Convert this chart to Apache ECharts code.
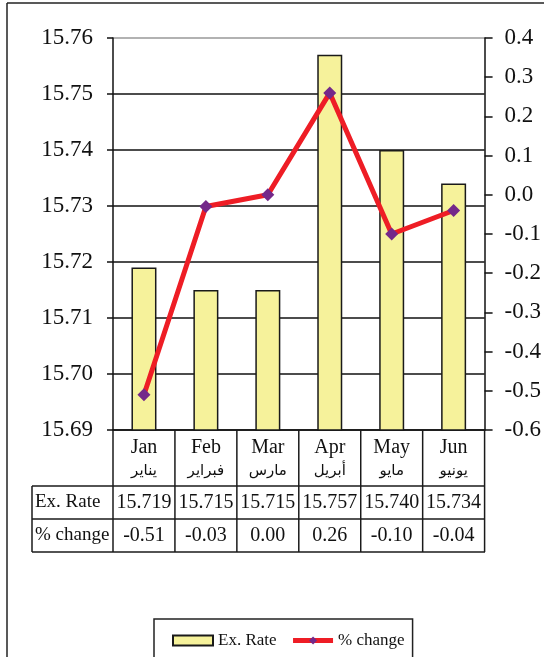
<!DOCTYPE html>
<html>
<head>
<meta charset="utf-8">
<script src="https://cdn.jsdelivr.net/npm/echarts@6/dist/echarts.min.js"></script>
<style>html,body{margin:0;padding:0;background:#fff}#c{width:544px;height:657px}</style>
</head>
<body>
<div id="c"></div>
<script>
const categories = ['Jan', 'Feb', 'Mar', 'Apr', 'May', 'Jun'];
const categoriesAr = ['يناير', 'فبراير', 'مارس', 'أبريل', 'مايو', 'يونيو'];
const exRate = [15.719, 15.715, 15.715, 15.757, 15.740, 15.734];
const pctChange = [-0.51, -0.03, 0.00, 0.26, -0.10, -0.04];
const rowLabels = ['Ex. Rate', '% change'];
const seriesNames = ['Ex. Rate', '% change'];

const FONT = "'Liberation Serif','Times New Roman',serif";
const GL = 113, GR = 485, GT = 38, GB = 430;
const W = 544, H = 657;
const chart = echarts.init(document.getElementById('c'), null, {renderer: 'canvas'});

const gridColors = ['#111', '#111', '#111', '#111', '#111', '#111', '#111', '#999'];

const option = {
  animation: false,
  backgroundColor: '#fff',
  grid: {left: GL, right: W - GR, top: GT, bottom: H - GB, containLabel: false},
  legend: {
    data: [
      {name: seriesNames[0], icon: 'rect'},
      {name: seriesNames[1], lineStyle: {width: 5, color: '#EE1D25'}}
    ],
    left: 154, top: 619,
    padding: [13, 8, 40, 18],
    borderColor: '#222', borderWidth: 1.5, borderRadius: 0,
    itemWidth: 40, itemHeight: 10, itemGap: 14, itemTextGap: 5,
    textStyle: {fontFamily: FONT, fontSize: 17, color: '#111'}
  },
  xAxis: {
    type: 'category',
    data: categories,
    axisLine: {onZero: false, lineStyle: {color: '#111', width: 1.5}},
    axisTick: {show: false},
    axisLabel: {
      interval: 0,
      margin: 6,
      formatter: (v, i) => '{a|' + v + '}\n{b|' + categoriesAr[i] + '}',
      rich: {
        a: {fontFamily: FONT, fontSize: 20, lineHeight: 24, color: '#111'},
        b: {fontFamily: "'DejaVu Sans',sans-serif", fontSize: 15, lineHeight: 22, color: '#111'}
      }
    }
  },
  yAxis: [
    {
      type: 'value', min: 15.69, max: 15.76, interval: 0.01,
      axisLine: {show: true, lineStyle: {color: '#111', width: 1.5}},
      axisTick: {show: true, length: 6, lineStyle: {color: '#111', width: 1.5}},
      axisLabel: {margin: 20, fontFamily: FONT, fontSize: 23, color: '#111', formatter: v => v.toFixed(2)},
      splitLine: {show: true, lineStyle: {color: gridColors, width: 1.5}}
    },
    {
      type: 'value', min: -0.6, max: 0.4, interval: 0.1, position: 'right',
      axisLine: {show: true, lineStyle: {color: '#111', width: 1.5}},
      axisTick: {show: true, length: 8, lineStyle: {color: '#111', width: 1.5}},
      axisLabel: {margin: 20, fontFamily: FONT, fontSize: 23, color: '#111', formatter: v => v.toFixed(1)},
      splitLine: {show: false}
    }
  ],
  series: [
    {
      name: seriesNames[0], type: 'bar', data: exRate, barWidth: 25, yAxisIndex: 0,
      itemStyle: {color: '#F6F29B', borderColor: '#1a1a1a', borderWidth: 1.5}
    },
    {
      name: seriesNames[1], type: 'line', data: pctChange, yAxisIndex: 1, z: 5,
      lineStyle: {color: '#EE1D25', width: 5},
      itemStyle: {color: '#74288A'},
      symbol: 'diamond', symbolSize: 13, showSymbol: true
    }
  ]
};
chart.setOption(option);

function buildTable() {
  const xs = categories.map((c, i) => chart.convertToPixel({xAxisIndex: 0}, i));
  const band = xs[1] - xs[0];
  const r1 = 486, r2 = 519, r3 = 552, tl = 32;
  const line = '#1a1a1a';
  const els = [];
  const L = (x1, y1, x2, y2, w, c) => els.push({type: 'line', shape: {x1, y1, x2, y2}, style: {stroke: c || line, lineWidth: w || 1.5}, z: 10});
  // frame
  L(7, 3, 7, H + 2, 1.5, '#222');
  L(7, 3, W + 2, 3, 1.5, '#222');
  // horizontal rules
  L(tl, r1, GR, r1); L(tl, r2, GR, r2); L(tl, r3, GR, r3);
  // vertical rules
  L(tl, r1, tl, r3);
  for (let i = 0; i <= categories.length; i++) {
    const x = (i < categories.length ? xs[i] - band / 2 : xs[categories.length - 1] + band / 2);
    L(x, GB, x, r3);
  }
  const rows = [exRate.map(v => v.toFixed(3)), pctChange.map(v => v.toFixed(2))];
  const ys = [(r1 + r2) / 2, (r2 + r3) / 2];
  rows.forEach((row, ri) => {
    els.push({type: 'text', x: tl + 3, y: ys[ri], style: {text: rowLabels[ri], font: '19px ' + FONT, fill: '#111', textAlign: 'left', textVerticalAlign: 'middle'}, z: 10});
    row.forEach((t, ci) => {
      els.push({type: 'text', x: xs[ci], y: ys[ri], style: {text: t, font: '20px ' + FONT, fill: '#111', textAlign: 'center', textVerticalAlign: 'middle'}, z: 10});
    });
  });
  chart.setOption({graphic: els});
}
buildTable();
</script>
</body>
</html>
